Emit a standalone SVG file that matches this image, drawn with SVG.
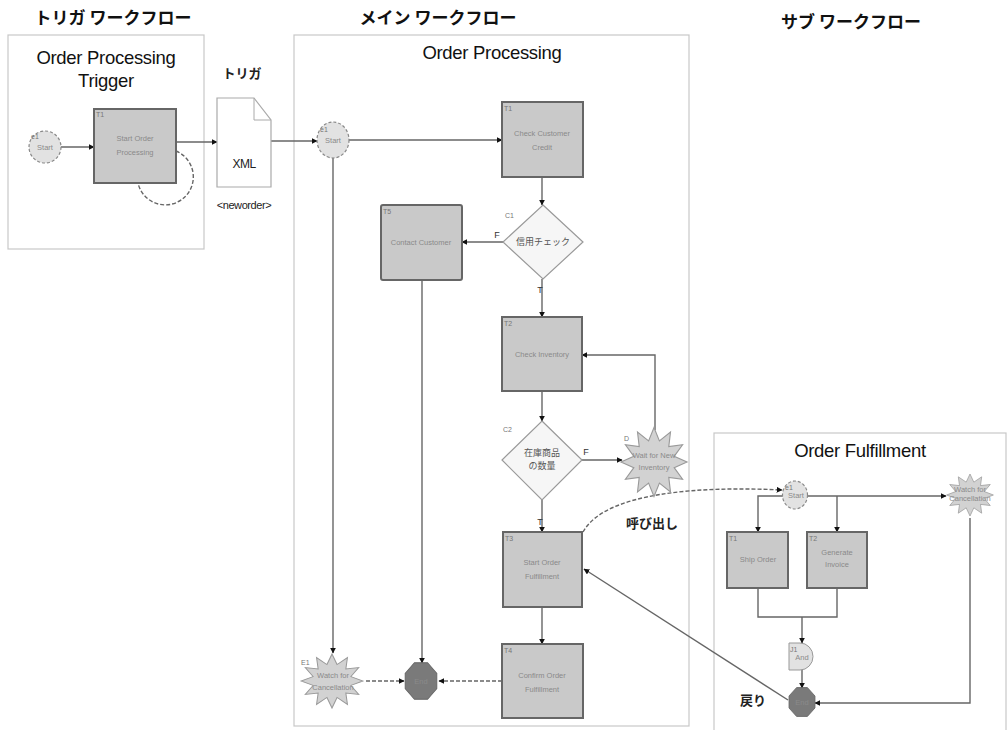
<svg xmlns="http://www.w3.org/2000/svg" width="1008" height="730" viewBox="0 0 1008 730">
  <style>
    .panel { fill: #ffffff; stroke: #c8c8c8; stroke-width: 1.2; }
    .title { font-family: "Noto Sans CJK JP", sans-serif; font-weight: bold; font-size: 17px; fill: #111; }
    .head { font-family: "Liberation Sans", Arial, sans-serif; font-size: 18.5px; fill: #111; letter-spacing: -0.3px; }
    .lbl { font-family: "Noto Sans CJK JP", sans-serif; font-size: 13px; fill: #222; font-weight: bold; }
    .task { fill: #c9c9c9; stroke: #666; stroke-width: 2; }
    .dia { fill: #f6f6f6; stroke: #999; stroke-width: 1.2; }
    .start { fill: #e2e2e2; stroke: #888; stroke-width: 1.2; stroke-dasharray: 3 2; }
    .burst { fill: #d2d2d2; stroke: #999; stroke-width: 1; }
    .end { fill: #7a7a7a; stroke: #666; stroke-width: 1; }
    .tx { font-family: "Liberation Sans", Arial, sans-serif; font-size: 7.5px; fill: #8a8a8a; text-anchor: middle; }
    .txd { font-family: "Noto Sans CJK JP", sans-serif; font-size: 9px; fill: #555; text-anchor: middle; }
    .id { font-family: "Liberation Sans", Arial, sans-serif; font-size: 7px; fill: #777; }
    .tf { font-family: "Liberation Sans", Arial, sans-serif; font-size: 9px; fill: #333; text-anchor: middle; }
    .edge { fill: none; stroke: #666; stroke-width: 1.4; }
    .dash { fill: none; stroke: #666; stroke-width: 1.4; stroke-dasharray: 4 2; }
  </style>
  <defs>
    <marker id="arr" viewBox="0 0 10 10" refX="9" refY="5" markerWidth="6" markerHeight="6" orient="auto" markerUnits="userSpaceOnUse">
      <path d="M0,0 L10,5 L0,10 Z" fill="#111"/>
    </marker>
    <polygon id="star" points="30,0 18.35,4.92 25.98,15 13.43,13.43 15,25.98 4.92,18.35 0,30 -4.92,18.35 -15,25.98 -13.43,13.43 -25.98,15 -18.35,4.92 -30,0 -18.35,-4.92 -25.98,-15 -13.43,-13.43 -15,-25.98 -4.92,-18.35 0,-30 4.92,-18.35 15,-25.98 13.43,-13.43 25.98,-15 18.35,-4.92"/>
    <polygon id="oct" points="16.63,-6.89 16.63,6.89 6.89,16.63 -6.89,16.63 -16.63,6.89 -16.63,-6.89 -6.89,-16.63 6.89,-16.63"/>
  </defs>

  <rect width="1008" height="730" fill="#ffffff"/>

  <!-- section titles -->
  <text class="title" x="113" y="24" text-anchor="middle">トリガ ワークフロー</text>
  <text class="title" x="438" y="24" text-anchor="middle">メイン ワークフロー</text>
  <text class="title" x="851" y="28" text-anchor="middle">サブ ワークフロー</text>

  <!-- panels -->
  <g id="panel-trigger">
    <rect class="panel" x="8" y="35" width="196" height="214"/>
    <text class="head" x="106" y="64" text-anchor="middle">Order Processing</text>
    <text class="head" x="106" y="87" text-anchor="middle">Trigger</text>
  </g>
  <g id="panel-main">
    <rect class="panel" x="294" y="35" width="395" height="691"/>
    <text class="head" x="492" y="59" text-anchor="middle" font-size="19.5">Order Processing</text>
  </g>
  <g id="panel-sub">
    <rect class="panel" x="714" y="433" width="292" height="310"/>
    <text class="head" x="860" y="457" text-anchor="middle">Order Fulfillment</text>
  </g>

  <!-- connectors -->
  <g id="connectors">
    <!-- trigger workflow -->
    <line class="edge" x1="61" y1="147" x2="94" y2="147" marker-end="url(#arr)"/>
    <path class="dash" d="M176,151 A28,28 0 1 1 138,183"/>
    <line class="edge" x1="176" y1="142" x2="217" y2="142" stroke="#aaa" marker-end="url(#arr)"/>
    <line class="edge" x1="271" y1="141" x2="317" y2="141" stroke="#aaa" marker-end="url(#arr)"/>
    <!-- main workflow -->
    <line class="edge" x1="349" y1="140" x2="502" y2="140" stroke="#aaa" marker-end="url(#arr)"/>
    <line class="edge" x1="542" y1="177" x2="542" y2="205" marker-end="url(#arr)"/>
    <line class="edge" x1="503" y1="242" x2="462" y2="242" marker-end="url(#arr)"/>
    <line class="edge" x1="542" y1="279" x2="542" y2="317" marker-end="url(#arr)"/>
    <line class="edge" x1="542" y1="391" x2="542" y2="421" marker-end="url(#arr)"/>
    <line class="edge" x1="582" y1="460" x2="622" y2="460" marker-end="url(#arr)"/>
    <polyline class="edge" points="655,430 655,355 582,355" stroke="#888" marker-end="url(#arr)"/>
    <line class="edge" x1="542" y1="500" x2="542" y2="532" marker-end="url(#arr)"/>
    <line class="edge" x1="542" y1="607" x2="542" y2="644" marker-end="url(#arr)"/>
    <line class="dash" x1="502" y1="681" x2="439" y2="681" marker-end="url(#arr)"/>
    <line class="edge" x1="422" y1="280" x2="422" y2="663" stroke="#888" marker-end="url(#arr)"/>
    <line class="edge" x1="333" y1="158" x2="333" y2="653" stroke="#888" marker-end="url(#arr)"/>
    <line class="dash" x1="366" y1="681" x2="404" y2="681" marker-end="url(#arr)"/>
    <!-- call into sub workflow -->
    <path class="dash" d="M583,532 C605,492 700,486 782,490" stroke-dasharray="7 2" marker-end="url(#arr)"/>
    <!-- sub workflow -->
    <line class="edge" x1="808" y1="496" x2="946" y2="496" marker-end="url(#arr)"/>
    <polyline class="edge" points="783,496 758,496 758,532" marker-end="url(#arr)"/>
    <line class="edge" x1="837" y1="496" x2="837" y2="532" marker-end="url(#arr)"/>
    <polyline class="edge" points="758,588 758,617 837,617 837,588" stroke="#888"/>
    <line class="edge" x1="802" y1="617" x2="802" y2="643" stroke="#aaa" marker-end="url(#arr)"/>
    <line class="edge" x1="802" y1="670" x2="802" y2="688" stroke="#aaa" marker-end="url(#arr)"/>
    <polyline class="edge" points="970,518 970,703 815,703" marker-end="url(#arr)"/>
    <!-- return to main workflow -->
    <line class="edge" x1="788" y1="700" x2="584" y2="569" stroke="#555" marker-end="url(#arr)"/>
  </g>

  <!-- connector labels -->
  <text class="tf" x="497" y="238">F</text>
  <text class="tf" x="540" y="293">T</text>
  <text class="tf" x="586" y="455">F</text>
  <text class="tf" x="540" y="525">T</text>
  <text class="lbl" x="652" y="528" text-anchor="middle">呼び出し</text>
  <text class="lbl" x="753" y="705" text-anchor="middle">戻り</text>

  <!-- trigger workflow nodes -->
  <g id="trig-start">
    <ellipse class="start" cx="45" cy="147" rx="16" ry="16"/>
    <text class="id" x="31" y="139">e1</text>
    <text class="tx" x="45" y="150">Start</text>
  </g>
  <g id="trig-t1">
    <rect class="task" x="94" y="109" width="82" height="74"/>
    <text class="id" x="96" y="117">T1</text>
    <text class="tx" x="135" y="141">Start Order</text>
    <text class="tx" x="135" y="155">Processing</text>
  </g>
  <g id="xml-doc">
    <path d="M217,98 H254 L271,120 V187 H217 Z" fill="#fff" stroke="#aaa" stroke-width="1.2"/>
    <path d="M254,98 V120 H271" fill="none" stroke="#aaa" stroke-width="1"/>
    <text class="lbl" x="242" y="78" text-anchor="middle" font-size="14">トリガ</text>
    <text x="244" y="168" text-anchor="middle" font-family="Liberation Sans, Arial, sans-serif" font-size="12" fill="#222" letter-spacing="-0.5">XML</text>
    <text x="244" y="209" text-anchor="middle" font-family="Liberation Sans, Arial, sans-serif" font-size="11" fill="#222" letter-spacing="-0.4">&lt;neworder&gt;</text>
  </g>

  <!-- main workflow nodes -->
  <g id="main-start">
    <ellipse class="start" cx="333" cy="140" rx="16" ry="18"/>
    <text class="id" x="320" y="132">e1</text>
    <text class="tx" x="333" y="143">Start</text>
  </g>
  <g id="main-check-credit">
    <rect class="task" x="502" y="102" width="81" height="75"/>
    <text class="id" x="504" y="111">T1</text>
    <text class="tx" x="542" y="136">Check Customer</text>
    <text class="tx" x="542" y="150">Credit</text>
  </g>
  <g id="main-c1">
    <polygon class="dia" points="543,205 583,242 543,279 503,242"/>
    <text class="id" x="505" y="218" fill="#aaa">C1</text>
    <text class="txd" x="543" y="245">信用チェック</text>
  </g>
  <g id="main-contact">
    <rect class="task" x="381" y="205" width="81" height="75" rx="2"/>
    <text class="id" x="383" y="214">T5</text>
    <text class="tx" x="421" y="245">Contact Customer</text>
  </g>
  <g id="main-check-inventory">
    <rect class="task" x="502" y="317" width="80" height="74"/>
    <text class="id" x="504" y="326">T2</text>
    <text class="tx" x="542" y="357">Check Inventory</text>
  </g>
  <g id="main-c2">
    <polygon class="dia" points="542,421 582,460 542,500 502,460"/>
    <text class="id" x="503" y="432" fill="#aaa">C2</text>
    <text class="txd" x="542" y="456">在庫商品</text>
    <text class="txd" x="542" y="469">の数量</text>
  </g>
  <g id="main-wait">
    <use href="#star" class="burst" transform="translate(654,462) scale(1.1,1.15)"/>
    <text class="id" x="624" y="441">D</text>
    <text class="tx" x="654" y="458" fill="#555">Wait for New</text>
    <text class="tx" x="654" y="470" fill="#555">Inventory</text>
  </g>
  <g id="main-start-fulfill">
    <rect class="task" x="503" y="532" width="79" height="75"/>
    <text class="id" x="505" y="541">T3</text>
    <text class="tx" x="542" y="565">Start Order</text>
    <text class="tx" x="542" y="579">Fulfillment</text>
  </g>
  <g id="main-confirm">
    <rect class="task" x="502" y="644" width="81" height="74"/>
    <text class="id" x="504" y="653">T4</text>
    <text class="tx" x="542" y="678">Confirm Order</text>
    <text class="tx" x="542" y="692">Fulfillment</text>
  </g>
  <g id="main-end">
    <use href="#oct" class="end" transform="translate(421,681) scale(0.95,1.1)"/>
    <text class="tx" x="421" y="684" fill="#444">End</text>
  </g>
  <g id="main-watch">
    <use href="#star" class="burst" transform="translate(332,681) scale(1.03,0.9)"/>
    <text class="id" x="301" y="665">E1</text>
    <text class="tx" x="333" y="678" fill="#555">Watch for</text>
    <text class="tx" x="333" y="690" fill="#555">Cancellation</text>
  </g>

  <!-- sub workflow nodes -->
  <g id="sub-start">
    <ellipse class="start" cx="795" cy="495" rx="12.5" ry="14"/>
    <text class="id" x="785" y="490" font-size="6">e1</text>
    <text class="tx" x="796" y="498" font-size="6.5">Start</text>
  </g>
  <g id="sub-watch">
    <use href="#star" class="burst" transform="translate(970,495) scale(0.78,0.7)"/>
    <text class="tx" x="970" y="492" font-size="6.5" fill="#555">Watch for</text>
    <text class="tx" x="970" y="501" font-size="6.5" fill="#555">Cancellation</text>
  </g>
  <g id="sub-ship">
    <rect class="task" x="727" y="532" width="61" height="56"/>
    <text class="id" x="729" y="541">T1</text>
    <text class="tx" x="758" y="562">Ship Order</text>
  </g>
  <g id="sub-invoice">
    <rect class="task" x="807" y="532" width="60" height="56"/>
    <text class="id" x="809" y="541">T2</text>
    <text class="tx" x="837" y="555">Generate</text>
    <text class="tx" x="837" y="567">Invoice</text>
  </g>
  <g id="sub-and">
    <path d="M789,643 H800 A13,13.5 0 0 1 800,670 H789 Z" fill="#e2e2e2" stroke="#999" stroke-width="1"/>
    <text class="id" x="790" y="652" font-size="6">J1</text>
    <text class="tx" x="802" y="660" font-size="6.5" fill="#555">And</text>
  </g>
  <g id="sub-end">
    <use href="#oct" class="end" transform="translate(802,702) scale(0.78,0.87)"/>
    <text class="tx" x="802" y="705" font-size="6.5" fill="#444">End</text>
  </g>
</svg>
